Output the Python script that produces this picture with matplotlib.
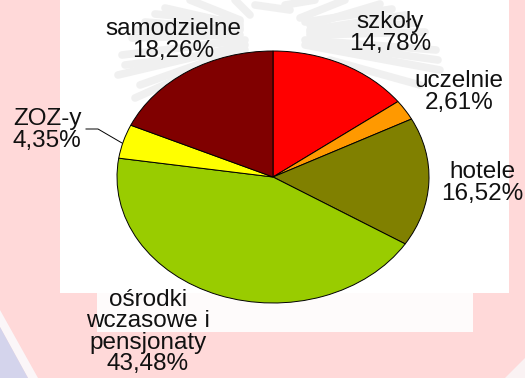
import matplotlib
matplotlib.use('Agg')
import matplotlib.pyplot as plt
from matplotlib.patches import Rectangle, Polygon

W, H = 525, 378

names = ['szkoły', 'uczelnie', 'hotele', 'ośrodki\nwczasowe i\npensjonaty', 'ZOZ-y', 'samodzielne']
values = [14.78, 2.61, 16.52, 43.48, 4.35, 18.26]
percent_labels = ['14,78%', '2,61%', '16,52%', '43,48%', '4,35%', '18,26%']
colors = ['#ff0000', '#ff9900', '#808000', '#99cc00', '#ffff00', '#800000']
label_pos = [(390, 33), (459, 92), (482, 183), (148, 332), (47, 130), (173, 40)]

# feathers of the eagle behind the pie, rough strokes: (x0, y0, x1, y1)
feathers = [
    (245, 45, 118, 75), (245, 40, 122, 55), (240, 35, 132, 38), (240, 30, 145, 22),
    (240, 25, 165, 8), (240, 20, 190, 0), (220, 60, 135, 98), (215, 65, 160, 115),
    (250, 15, 235, 0), (305, 45, 440, 70), (305, 40, 436, 50), (310, 35, 425, 32),
    (310, 30, 405, 15), (310, 25, 380, 4), (300, 18, 345, 0), (330, 60, 420, 85),
    (290, 10, 255, 5), (285, 5, 315, 0), (245, 50, 125, 65), (240, 28, 135, 30),
    (240, 22, 155, 14), (310, 42, 438, 60), (310, 32, 415, 23), (305, 22, 392, 9),
    (225, 55, 140, 85),
]

fig = plt.figure(figsize=(W / 100, H / 100), dpi=100, facecolor='#ffd9d9')

bg = fig.add_axes([0, 0, 1, 1])
bg.set_xlim(0, W)
bg.set_ylim(H, 0)
bg.axis('off')
bg.add_patch(Polygon([(0, 310), (38, 378), (28, 378), (0, 327)], fc='#fbf6f8', ec='none'))
bg.add_patch(Polygon([(0, 327), (28, 378), (0, 378)], fc='#d4d4ec', ec='none'))
bg.add_patch(Polygon([(505, 378), (525, 358), (525, 378)], fc='#faf2f3', ec='none'))
bg.add_patch(Rectangle((60, 0), 449, 293, fc='white', ec='none'))
bg.add_patch(Rectangle((97, 293), 376, 39, fc='#fefbfb', ec='none'))
for x0, y0, x1, y1 in feathers:
    bg.plot([x0, x1], [y0, y1], color='#f0f0f0', lw=5.5, solid_capstyle='round')

# pie is stretched to an ellipse, so aspect is left free
ax = fig.add_axes([117 / W, 1 - 303 / H, 312 / W, 252 / H])
ax.pie(values, colors=colors, startangle=90, counterclock=False, radius=1,
       wedgeprops={'edgecolor': 'black', 'linewidth': 0.7})
ax.set_aspect('auto')
ax.set_xlim(-1, 1)
ax.set_ylim(-1, 1)
ax.patch.set_visible(False)

# leader line for ZOZ-y
bg.plot([86, 98, 122], [129, 129, 143], color='black', lw=0.7)

# labels that sit over the pie edge have to stay on top
top = fig.add_axes([0, 0, 1, 1])
top.set_xlim(0, W)
top.set_ylim(H, 0)
top.axis('off')
for name, pct, (x, y) in zip(names, percent_labels, label_pos):
    top.text(x, y, name + '\n' + pct, ha='center', va='center', fontsize=17.5,
             family='Liberation Sans', color='#111111', linespacing=0.98)

fig.savefig('out.png', dpi=100)
